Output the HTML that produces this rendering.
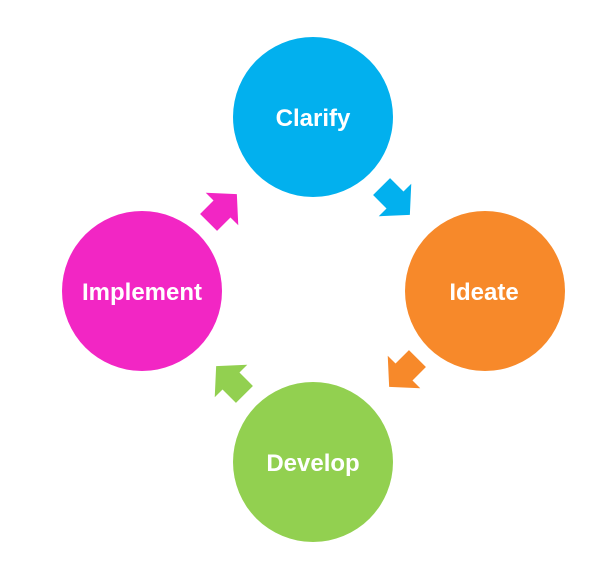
<!DOCTYPE html>
<html><head><style>
body{margin:0;background:#fff;width:614px;height:562px;overflow:hidden}
svg{display:block}
text{font-family:"Liberation Sans",Arial,sans-serif;font-weight:bold;font-size:24px;fill:#fff;text-anchor:middle}
</style></head><body>
<svg width="614" height="562" viewBox="0 0 614 562">
<defs><polygon id="a" points="-19,-12 0,-12 0,-23 21,0 0,23 0,12 -19,12"/></defs>
<circle cx="313" cy="117" r="80" fill="#02b0ee"/>
<circle cx="485" cy="291" r="80" fill="#f7892a"/>
<circle cx="313" cy="462" r="80" fill="#92d050"/>
<circle cx="142" cy="291" r="80" fill="#f226c4"/>
<use href="#a" fill="#02b0ee" transform="translate(395,200) rotate(45)"/>
<use href="#a" fill="#f7892a" transform="translate(404,372) rotate(135)"/>
<use href="#a" fill="#92d050" transform="translate(231,381) rotate(225)"/>
<use href="#a" fill="#f226c4" transform="translate(222,209) rotate(-45)"/>
<text x="313" y="126">Clarify</text>
<text x="484" y="300">Ideate</text>
<text x="313" y="471">Develop</text>
<text x="142" y="300">Implement</text>
</svg>
</body></html>
